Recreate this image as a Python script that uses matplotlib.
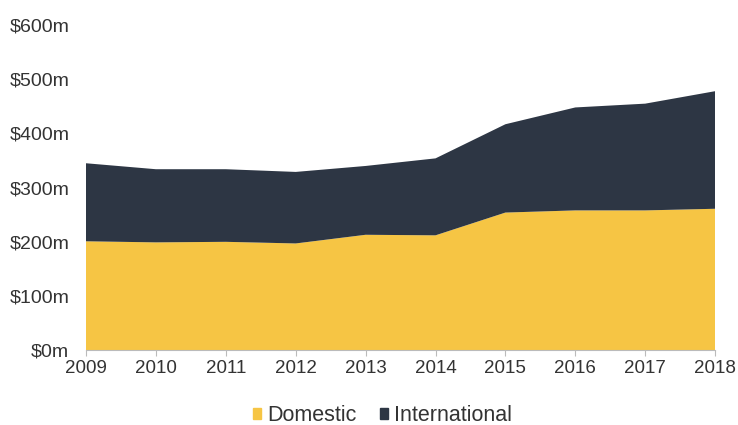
import numpy as np
import matplotlib.pyplot as plt
from matplotlib.patches import Patch

plt.rcParams['font.family'] = ['Liberation Sans', 'DejaVu Sans']

years = [2009, 2010, 2011, 2012, 2013, 2014, 2015, 2016, 2017, 2018]
domestic = [201, 199, 200, 197, 213, 212, 254, 258, 258, 261]
international = [144, 135, 134, 132, 127, 142, 163, 190, 197, 217]
ytick_vals = [0, 100, 200, 300, 400, 500, 600]

yellow = '#F6C544'
navy = '#2D3644'
text_col = '#333333'

fig = plt.figure(figsize=(7.38, 4.25), dpi=100)
ax = fig.add_axes([0.1165, 0.176, 0.8525, 0.765])

ax.stackplot(years, domestic, international, colors=[yellow, navy], linewidth=0)

ax.set_xlim(2009, 2018)
ax.set_ylim(0, 600)
ax.set_xticks(years)
ax.set_xticklabels([str(y) for y in years], fontsize=13.5, color=text_col)
ax.set_yticks(ytick_vals)
ax.set_yticklabels(['$%dm' % v for v in ytick_vals], fontsize=14, color=text_col)

for s in ['top', 'right', 'left']:
    ax.spines[s].set_visible(False)
ax.spines['bottom'].set_color('#BBBBBB')
ax.tick_params(axis='y', length=0, pad=12)
ax.tick_params(axis='x', length=4, color='#BBBBBB', pad=3)

handles = [Patch(color=yellow, label='Domestic'), Patch(color=navy, label='International')]
fig.legend(handles=handles, loc='center', bbox_to_anchor=(0.518, 0.022), ncol=2,
           frameon=False, fontsize=15.5, handlelength=0.4, handleheight=0.4,
           handletextpad=0.25, columnspacing=1.1, labelcolor=text_col)

fig.savefig('out.png', dpi=100)
